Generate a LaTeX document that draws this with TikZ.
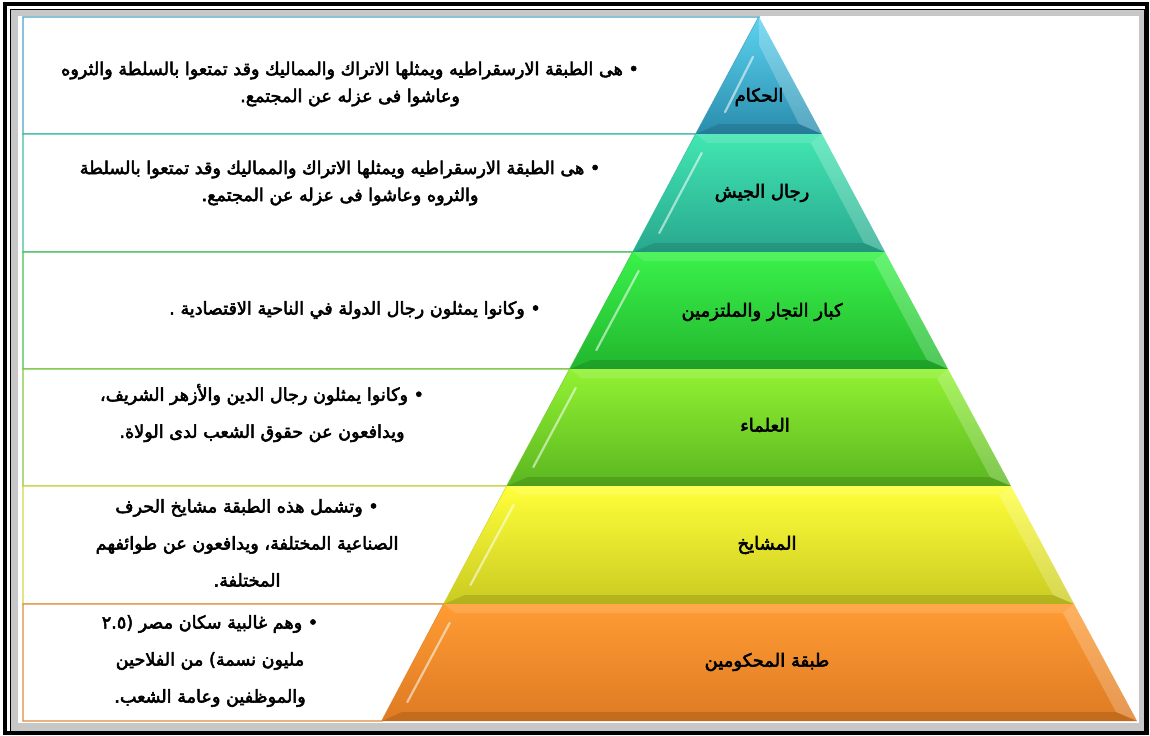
\documentclass[tikz,border=0pt]{standalone}
\usepackage{fontspec}
\usetikzlibrary{calc}
\newfontfamily\arfont[Script=Arabic,FakeBold=3]{DejaVu Sans}
\TeXXeTstate=1
\newcommand{\arline}[1]{\beginR #1\endR}

\definecolor{rulersTop}{HTML}{5CD3F0}
\definecolor{rulersBot}{HTML}{2A8CAD}
\definecolor{rulersLine}{HTML}{4BA3BF}
\definecolor{armyTop}{HTML}{42E6B2}
\definecolor{armyBot}{HTML}{28A88E}
\definecolor{armyLine}{HTML}{3CC0A0}
\definecolor{merchantsTop}{HTML}{3AF24A}
\definecolor{merchantsBot}{HTML}{22B62E}
\definecolor{merchantsLine}{HTML}{44C04C}
\definecolor{scholarsTop}{HTML}{92F232}
\definecolor{scholarsBot}{HTML}{5AB620}
\definecolor{scholarsLine}{HTML}{80C840}
\definecolor{sheikhsTop}{HTML}{FFFF3A}
\definecolor{sheikhsBot}{HTML}{CACA22}
\definecolor{sheikhsLine}{HTML}{D4D440}
\definecolor{ruledTop}{HTML}{FF9C34}
\definecolor{ruledBot}{HTML}{DE7A22}
\definecolor{ruledLine}{HTML}{E08A3C}

\begin{document}
\begin{tikzpicture}[
        x=0.5pt, y=-0.5pt,
        infobox/.style={draw=#1, line width=0.7pt, fill=white},
        facet light/.style={fill=white, fill opacity=0.22},
        facet top/.style={fill=white, fill opacity=0.12},
        facet dark/.style={fill=black, fill opacity=0.12},
        shine/.style={draw=white, draw opacity=0.55, line width=1.1pt, line cap=round},
        info/.style={font=\arfont\fontsize{8.8}{18.5}\selectfont, align=center},
        tight info/.style={info, font=\arfont\fontsize{8.8}{13.5}\selectfont},
        tier label/.style={font=\arfont\fontsize{9}{11}\selectfont}
    ]
    \useasboundingbox (0,0) rectangle (1150,735);

    % frame
    \fill[white] (0,0) rectangle (1150,735);
    \fill[black!22] (10,9) rectangle (1144,731);
    \fill[white] (18,16) rectangle (1139,723);
    \draw[line width=1.6pt] (5,4) rectangle (1147,733);
    \draw[line width=0.5pt] (10,9) rectangle (1144,731);

    % text boxes beside the pyramid
    \draw[infobox=rulersLine] (23,17) -- (759,17) -- (696,134) -- (23,134) -- cycle;
    \draw[infobox=armyLine] (23,134) -- (696,134) -- (633,252) -- (23,252) -- cycle;
    \draw[infobox=merchantsLine] (23,252) -- (633,252) -- (570,369) -- (23,369) -- cycle;
    \draw[infobox=scholarsLine] (23,369) -- (570,369) -- (507,486) -- (23,486) -- cycle;
    \draw[infobox=sheikhsLine] (23,486) -- (507,486) -- (444,604) -- (23,604) -- cycle;
    \draw[infobox=ruledLine] (23,604) -- (444,604) -- (382,721) -- (23,721) -- cycle;

    % tier 1
    \shade[top color=rulersTop, bottom color=rulersBot] (759,17) -- (822,134) -- (696,134) -- cycle;
    \fill[facet light] (759,17) -- (822,134) -- (799,124) -- (759,45) -- cycle;
    \fill[facet dark] (696,134) -- (822,134) -- (799,124) -- (719,124) -- cycle;
    \draw[shine] ($(759,45)!.15!(719,124)$) -- ($(759,45)!.85!(719,124)$);

    % tier 2
    \shade[top color=armyTop, bottom color=armyBot] (696,134) -- (822,134) -- (885,252) -- (633,252) -- cycle;
    \fill[facet top] (696,134) -- (822,134) -- (811,143) -- (707,143) -- cycle;
    \fill[facet light] (822,134) -- (885,252) -- (864,243) -- (811,143) -- cycle;
    \fill[facet dark] (633,252) -- (885,252) -- (864,243) -- (654,243) -- cycle;
    \draw[shine] ($(707,143)!.1!(654,243)$) -- ($(707,143)!.9!(654,243)$);

    % tier 3
    \shade[top color=merchantsTop, bottom color=merchantsBot] (633,252) -- (885,252) -- (948,369) -- (570,369) -- cycle;
    \fill[facet top] (633,252) -- (885,252) -- (874,261) -- (644,261) -- cycle;
    \fill[facet light] (885,252) -- (948,369) -- (927,360) -- (874,261) -- cycle;
    \fill[facet dark] (570,369) -- (948,369) -- (927,360) -- (591,360) -- cycle;
    \draw[shine] ($(644,261)!.1!(591,360)$) -- ($(644,261)!.9!(591,360)$);

    % tier 4
    \shade[top color=scholarsTop, bottom color=scholarsBot] (570,369) -- (948,369) -- (1011,486) -- (507,486) -- cycle;
    \fill[facet top] (570,369) -- (948,369) -- (937,378) -- (581,378) -- cycle;
    \fill[facet light] (948,369) -- (1011,486) -- (990,477) -- (937,378) -- cycle;
    \fill[facet dark] (507,486) -- (1011,486) -- (990,477) -- (528,477) -- cycle;
    \draw[shine] ($(581,378)!.1!(528,477)$) -- ($(581,378)!.9!(528,477)$);

    % tier 5
    \shade[top color=sheikhsTop, bottom color=sheikhsBot] (507,486) -- (1011,486) -- (1074,604) -- (444,604) -- cycle;
    \fill[facet top] (507,486) -- (1011,486) -- (999,495) -- (519,495) -- cycle;
    \fill[facet light] (1011,486) -- (1074,604) -- (1053,595) -- (999,495) -- cycle;
    \fill[facet dark] (444,604) -- (1074,604) -- (1053,595) -- (465,595) -- cycle;
    \draw[shine] ($(519,495)!.1!(465,595)$) -- ($(519,495)!.9!(465,595)$);

    % tier 6
    \shade[top color=ruledTop, bottom color=ruledBot] (444,604) -- (1074,604) -- (1137,721) -- (382,721) -- cycle;
    \fill[facet top] (444,604) -- (1074,604) -- (1063,613) -- (455,613) -- cycle;
    \fill[facet light] (1074,604) -- (1137,721) -- (1116,712) -- (1063,613) -- cycle;
    \fill[facet dark] (382,721) -- (1137,721) -- (1116,712) -- (402,712) -- cycle;
    \draw[shine] ($(455,613)!.1!(402,712)$) -- ($(455,613)!.9!(402,712)$);

    % tier labels
    \node[tier label] (rulers) at (759,97) {\arline{الحكام}};
    \node[tier label] (army) at (762,193) {\arline{رجال الجيش}};
    \node[tier label] (merchants) at (762,312) {\arline{كبار التجار والملتزمين}};
    \node[tier label] (scholars) at (765,425) {\arline{العلماء}};
    \node[tier label] (sheikhs) at (767,545) {\arline{المشايخ}};
    \node[tier label] (ruled) at (767,662) {\arline{طبقة المحكومين}};

    % descriptions
    \node[tight info] (rulers info) at (350,84) {\arline{• هى الطبقة الارسقراطيه ويمثلها الاتراك والمماليك وقد تمتعوا بالسلطة والثروه}\\
        \arline{وعاشوا فى عزله عن المجتمع.}};
    \node[tight info] (army info) at (340,183) {\arline{• هى الطبقة الارسقراطيه ويمثلها الاتراك والمماليك وقد تمتعوا بالسلطة}\\
        \arline{والثروه وعاشوا فى عزله عن المجتمع.}};
    \node[info] (merchants info) at (355,310) {\arline{• وكانوا يمثلون رجال الدولة في الناحية الاقتصادية .}};
    \node[info] (scholars info) at (262,413) {\arline{• وكانوا يمثلون رجال الدين والأزهر الشريف،}\\
        \arline{ويدافعون عن حقوق الشعب لدى الولاة.}};
    \node[info] (sheikhs info) at (247,543) {\arline{• وتشمل هذه الطبقة مشايخ الحرف}\\
        \arline{الصناعية المختلفة، ويدافعون عن طوائفهم}\\
        \arline{المختلفة.}};
    \node[info] (ruled info) at (210,661) {\arline{• وهم غالبية سكان مصر (٢.٥}\\
        \arline{مليون نسمة) من الفلاحين}\\
        \arline{والموظفين وعامة الشعب.}};

\end{tikzpicture}
\end{document}
